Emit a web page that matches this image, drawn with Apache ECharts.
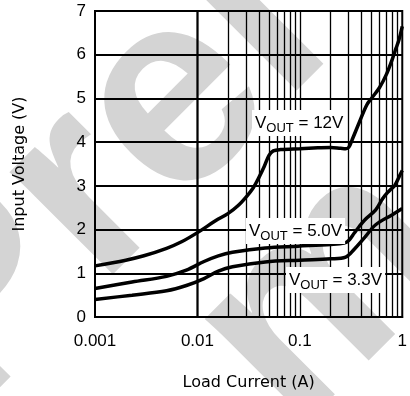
<!DOCTYPE html>
<html>
<head>
<meta charset="utf-8">
<script src="https://cdn.jsdelivr.net/npm/echarts@6/dist/echarts.min.js"></script>
<style>
html,body{margin:0;padding:0;background:#fff;}
#c{width:410px;height:396px;}
</style>
</head>
<body>
<div id="c"></div>
<script>
// ---- data ----
const xTickLabels = ['0.001', '0.01', '0.1', '1'];
const yTickLabels = ['0', '1', '2', '3', '4', '5', '6', '7'];
const verticalGridX = [0.002,0.003,0.004,0.005,0.006,0.007,0.008,0.009,0.01,
                       0.02,0.03,0.04,0.05,0.06,0.07,0.08,0.09,0.1,
                       0.2,0.3,0.4,0.5,0.6,0.7,0.8,0.9];

const i12 = [0.001,0.002,0.003,0.005,0.007,0.01,0.015,0.02,0.025,0.03,0.035,0.04,0.045,0.05,0.055,0.065,0.1,0.15,0.2,0.25,0.28,0.3,0.33,0.38,0.45,0.5,0.6,0.7,0.8,0.87,0.93,1.0];
const v12 = [1.17,1.3,1.4,1.57,1.72,1.93,2.2,2.37,2.55,2.75,2.95,3.2,3.45,3.7,3.8,3.83,3.85,3.87,3.88,3.86,3.85,3.88,4.1,4.45,4.85,5.0,5.25,5.55,5.9,6.15,6.35,6.65];

const i5 = [0.001,0.0023,0.005,0.0078,0.0116,0.016,0.022,0.046,0.096,0.2,0.27,0.3,0.34,0.38,0.43,0.55,0.64,0.72,0.77,0.84,0.96,1.0];
const v5 = [0.65,0.8,0.93,1.07,1.27,1.4,1.48,1.58,1.62,1.66,1.69,1.75,1.92,2.07,2.22,2.45,2.7,2.85,2.92,3.0,3.27,3.35];

const i33 = [0.001,0.0023,0.005,0.0078,0.0116,0.016,0.022,0.046,0.1,0.2,0.28,0.34,0.43,0.55,0.8,1.0];
const v33 = [0.4,0.5,0.6,0.72,0.88,1.05,1.15,1.26,1.3,1.33,1.37,1.55,1.82,2.11,2.34,2.48];

const curveNames = ['VOUT = 12V', 'VOUT = 5.0V', 'VOUT = 3.3V'];
const annotations = [
  {sub: 'OUT', rest: ' = 12V'},
  {sub: 'OUT', rest: ' = 5.0V'},
  {sub: 'OUT', rest: ' = 3.3V'}
];
// visible fragments of the diagonal background stamp
const watermarkParts = ['Prel', 'm'];

// ---- chart ----
const FONT = "'Liberation Sans', Arial, Helvetica, sans-serif";
const NAMEFONT = "'DejaVu Sans', 'Liberation Sans', sans-serif";
const zip = (a, b) => a.map((x, k) => [x, b[k]]);
const chart = echarts.init(document.getElementById('c'), null, {renderer: 'canvas'});

const curveStyle = {color: '#000', width: 3.5};
function curve(name, xs, ys) {
  return {
    name, type: 'line', data: zip(xs, ys), showSymbol: false, symbol: 'none',
    smooth: 0.35, lineStyle: curveStyle, z: 5, silent: true
  };
}

const richStyle = {
  v: {fontSize: 17, fontFamily: FONT, fill: '#000'},
  s: {fontSize: 13, fontFamily: FONT, fill: '#000', padding: [11, 0, 0, 0]}
};
const labelPos = [[252, 110], [246, 218], [286, 267]];

const labelGraphics = annotations.map((a, k) => ({
  type: 'text', left: labelPos[k][0], top: labelPos[k][1], z: 100,
  style: {
    text: '{v|V}{s|' + a.sub + '}{v|' + a.rest + '}',
    rich: richStyle, backgroundColor: '#fff', padding: [1, 3, 1, 3]
  }
}));

const wmAnchors = [[-84, 364], [241, 381]];
const watermarks = watermarkParts.map((t, k) => ({
  type: 'text', x: wmAnchors[k][0], y: wmAnchors[k][1], rotation: Math.PI / 4, z: -10, silent: true,
  style: {
    text: t, x: 0, y: 0, align: 'left', verticalAlign: 'middle',
    font: "bold 275px 'Liberation Sans', Arial, sans-serif", fill: '#d4d4d4'
  }
}));

const option = {
  animation: false,
  backgroundColor: '#fff',
  grid: {left: 95, top: 11, width: 310, height: 310, show: true, borderColor: '#000', borderWidth: 2, backgroundColor: 'transparent'},
  xAxis: {
    type: 'log', logBase: 10, min: 0.001, max: 1,
    name: 'Load Current (A)', nameLocation: 'middle', nameGap: 58,
    nameTextStyle: {fontSize: 16, fontFamily: NAMEFONT, color: '#000'},
    axisLine: {show: true, onZero: false, lineStyle: {color: '#000', width: 2}},
    axisTick: {show: false},
    axisLabel: {fontSize: 17, fontFamily: FONT, color: '#000', margin: 16,
      formatter: v => { const k = Math.round(Math.log10(v)) + 3; return xTickLabels[k] || ''; }},
    splitLine: {show: false}
  },
  yAxis: {
    type: 'value', min: 0, max: 7, interval: 1,
    name: 'Input Voltage (V)', nameLocation: 'middle', nameGap: 67,
    nameTextStyle: {fontSize: 16, fontFamily: NAMEFONT, color: '#000'},
    axisLine: {show: true, onZero: false, lineStyle: {color: '#000', width: 2}},
    axisTick: {show: false},
    axisLabel: {fontSize: 17, fontFamily: FONT, color: '#000', margin: 9,
      formatter: v => yTickLabels[Math.round(v)]},
    splitLine: {show: true, lineStyle: {color: '#000', width: 2}}
  },
  series: [
    {
      name: 'grid', type: 'line', data: [], silent: true, z: 1,
      markLine: {
        silent: true, symbol: ['none', 'none'], label: {show: false},
        lineStyle: {color: '#000', width: 1.3, type: 'solid'},
        animation: false,
        data: verticalGridX.map(x => ({xAxis: x}))
      }
    },
    curve(curveNames[0], i12, v12),
    curve(curveNames[1], i5, v5),
    curve(curveNames[2], i33, v33)
  ],
  graphic: watermarks.concat(labelGraphics)
};
chart.setOption(option);
</script>
</body>
</html>
